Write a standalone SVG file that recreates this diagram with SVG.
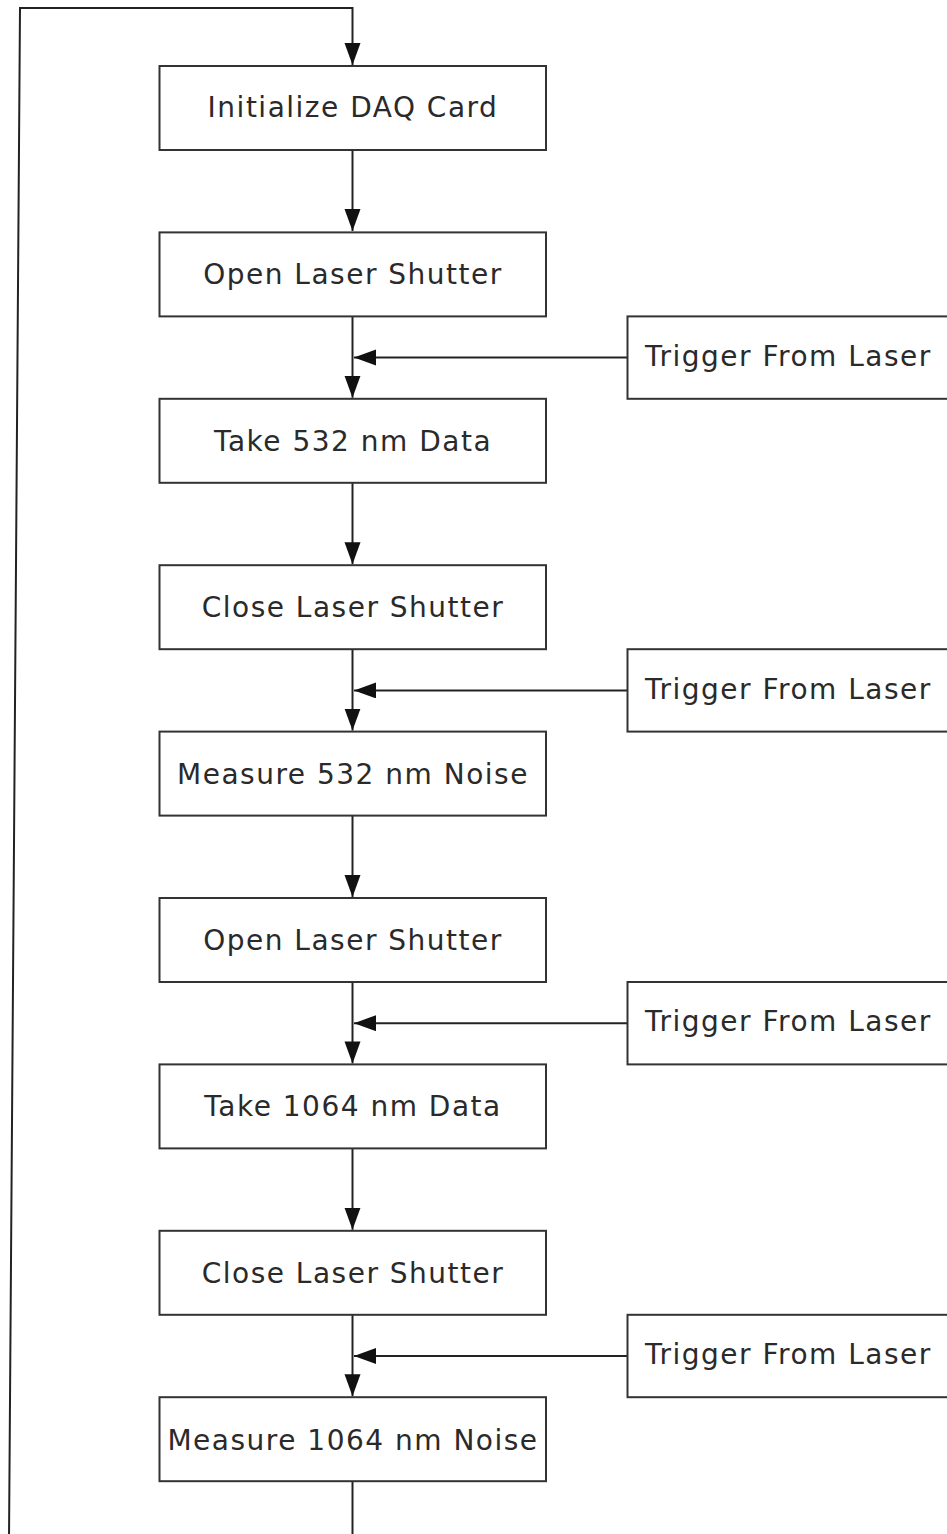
<svg xmlns="http://www.w3.org/2000/svg" width="947" height="1534" viewBox="0 0 947 1534">
<style>
.box{fill:#fff;stroke:#333;stroke-width:2}
.lbl{font-family:"DejaVu Sans","Verdana",sans-serif;font-size:28px;letter-spacing:1.5px;fill:#2a2a2a;text-anchor:middle}
.tl{font-family:"DejaVu Sans","Verdana",sans-serif;font-size:28px;letter-spacing:1.5px;fill:#2a2a2a}
.ln{fill:none;stroke:#222;stroke-width:2}
</style>
<defs>
<marker id="ah" markerUnits="userSpaceOnUse" markerWidth="24" markerHeight="18" refX="22" refY="8" orient="auto">
<path d="M0,0 L22,8 L0,16 Z" fill="#111"/>
</marker>
</defs>
<rect width="947" height="1534" fill="#fff"/>
<g id="connectors">
<path class="ln" d="M9,1540 L20,8 L352.5,8 L352.5,65" marker-end="url(#ah)"/>
<path class="ln" d="M352.5,150 L352.5,231" marker-end="url(#ah)"/>
<path class="ln" d="M352.5,316.4 L352.5,397.8" marker-end="url(#ah)"/>
<path class="ln" d="M352.5,482.8 L352.5,564.2" marker-end="url(#ah)"/>
<path class="ln" d="M352.5,649.2 L352.5,730.6" marker-end="url(#ah)"/>
<path class="ln" d="M352.5,815.6 L352.5,897" marker-end="url(#ah)"/>
<path class="ln" d="M352.5,982 L352.5,1063.4" marker-end="url(#ah)"/>
<path class="ln" d="M352.5,1148.4 L352.5,1229.8" marker-end="url(#ah)"/>
<path class="ln" d="M352.5,1314.8 L352.5,1396.2" marker-end="url(#ah)"/>
<path class="ln" d="M352.5,1481.2 L352.5,1540"/>
<path class="ln" d="M627.5,357.6 L354,357.6" marker-end="url(#ah)"/>
<path class="ln" d="M627.5,690.4 L354,690.4" marker-end="url(#ah)"/>
<path class="ln" d="M627.5,1023.2 L354,1023.2" marker-end="url(#ah)"/>
<path class="ln" d="M627.5,1356 L354,1356" marker-end="url(#ah)"/>
</g>
<g id="n1"><rect class="box" x="159.5" y="66" width="386.5" height="84"/><text class="lbl" x="353" y="117">Initialize DAQ Card</text></g>
<g id="n2"><rect class="box" x="159.5" y="232.4" width="386.5" height="84"/><text class="lbl" x="353" y="284">Open Laser Shutter</text></g>
<g id="n3"><rect class="box" x="159.5" y="398.8" width="386.5" height="84"/><text class="lbl" x="353" y="451">Take 532 nm Data</text></g>
<g id="n4"><rect class="box" x="159.5" y="565.2" width="386.5" height="84"/><text class="lbl" x="353" y="617">Close Laser Shutter</text></g>
<g id="n5"><rect class="box" x="159.5" y="731.6" width="386.5" height="84"/><text class="lbl" x="353" y="784">Measure 532 nm Noise</text></g>
<g id="n6"><rect class="box" x="159.5" y="898" width="386.5" height="84"/><text class="lbl" x="353" y="950">Open Laser Shutter</text></g>
<g id="n7"><rect class="box" x="159.5" y="1064.4" width="386.5" height="84"/><text class="lbl" x="353" y="1116">Take 1064 nm Data</text></g>
<g id="n8"><rect class="box" x="159.5" y="1230.8" width="386.5" height="84"/><text class="lbl" x="353" y="1283">Close Laser Shutter</text></g>
<g id="n9"><rect class="box" x="159.5" y="1397.2" width="386.5" height="84"/><text class="lbl" x="353" y="1450">Measure 1064 nm Noise</text></g>
<g id="t1"><rect class="box" x="627.5" y="316.4" width="340" height="82.4"/><text class="tl" x="645" y="366">Trigger From Laser</text></g>
<g id="t2"><rect class="box" x="627.5" y="649.2" width="340" height="82.4"/><text class="tl" x="645" y="699">Trigger From Laser</text></g>
<g id="t3"><rect class="box" x="627.5" y="982" width="340" height="82.4"/><text class="tl" x="645" y="1031">Trigger From Laser</text></g>
<g id="t4"><rect class="box" x="627.5" y="1314.8" width="340" height="82.4"/><text class="tl" x="645" y="1364">Trigger From Laser</text></g>
</svg>
